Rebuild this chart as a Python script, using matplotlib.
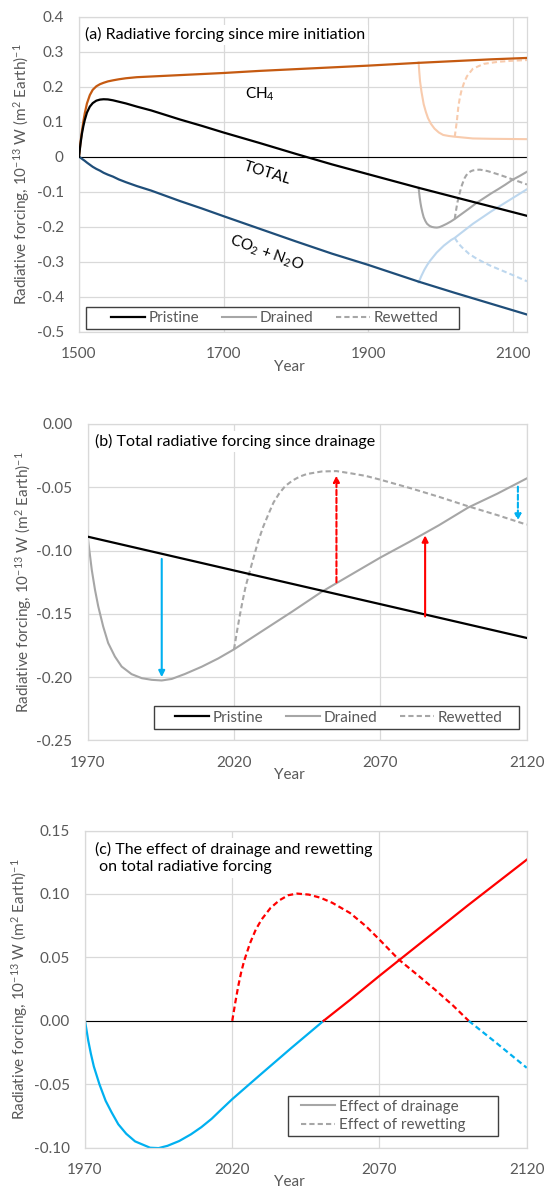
import matplotlib
matplotlib.use("Agg")
import matplotlib.pyplot as plt
import numpy as np
from matplotlib.lines import Line2D
from matplotlib.patches import Rectangle

plt.rcParams['font.family'] = ['Lato', 'DejaVu Sans']
plt.rcParams['mathtext.fontset'] = 'custom'
plt.rcParams['mathtext.rm'] = 'Lato'
plt.rcParams['mathtext.it'] = 'Lato:italic'
plt.rcParams['axes.unicode_minus'] = False

# pristine mire since initiation (panel a)
yr_pristine = [1500, 1502, 1504, 1506, 1508, 1511, 1515, 1519, 1524, 1529, 1534, 1540, 1547, 1555,
               1565, 1580, 1600, 1620, 1640, 1670, 1700, 1750, 1800, 1850, 1900, 1970, 2020, 2070, 2120]
ch4_pristine = [0.0, 0.040, 0.072, 0.100, 0.124, 0.152, 0.176, 0.191, 0.201, 0.207, 0.211, 0.215, 0.218, 0.221,
                0.224, 0.227, 0.229, 0.231, 0.233, 0.236, 0.239, 0.245, 0.250, 0.255, 0.260, 0.268, 0.273, 0.278, 0.282]
tot_pristine = [0.0, 0.036, 0.065, 0.087, 0.105, 0.126, 0.143, 0.153, 0.160, 0.163, 0.164, 0.1635, 0.161, 0.157,
                0.152, 0.143, 0.132, 0.119, 0.106, 0.088, 0.069, 0.039, 0.008, -0.022, -0.050, -0.089, -0.1157, -0.1423, -0.169]
co2_pristine = [0.0, -0.003, -0.006, -0.009, -0.012, -0.017, -0.023, -0.029, -0.035, -0.040, -0.046, -0.0515, -0.057, -0.065,
                -0.073, -0.084, -0.097, -0.112, -0.127, -0.148, -0.170, -0.206, -0.242, -0.277, -0.309, -0.357, -0.389, -0.420, -0.451]

# drained in 1970, rewetted in 2020 (panel a components)
yr_ch4_drained = [1970, 1971, 1972, 1974, 1977, 1980, 1983, 1987, 1992, 1998, 2004, 2012, 2020, 2045, 2070, 2120]
ch4_drained = [0.269, 0.240, 0.215, 0.185, 0.150, 0.128, 0.110, 0.094, 0.080, 0.069, 0.062, 0.059, 0.057, 0.052, 0.051, 0.050]
yr_ch4_rewet = [2020, 2021, 2023, 2025, 2027, 2029, 2033, 2037, 2045, 2060, 2080, 2100, 2120]
ch4_rewet = [0.057, 0.072, 0.103, 0.143, 0.168, 0.186, 0.212, 0.230, 0.251, 0.265, 0.271, 0.274, 0.276]
yr_co2_drained = [1970, 1974, 1978, 1982, 1986, 1995, 2005, 2015, 2020, 2045, 2070, 2095, 2120]
co2_drained = [-0.359, -0.340, -0.323, -0.309, -0.297, -0.274, -0.254, -0.238, -0.232, -0.192, -0.157, -0.125, -0.093]
yr_co2_rewet = [2020, 2025, 2030, 2040, 2050, 2060, 2070, 2085, 2100, 2120]
co2_rewet = [-0.232, -0.248, -0.259, -0.278, -0.291, -0.302, -0.312, -0.325, -0.338, -0.356]

# total forcing after drainage / rewetting (panels a and b)
yr_drained = [1970, 1971.4, 1972.5, 1973.6, 1975.3, 1977.0, 1979.3, 1981.6, 1985.0, 1988.5, 1991.9,
              1995.3, 1998.7, 2003.2, 2009.0, 2014.6, 2020, 2030, 2040, 2050, 2060, 2070, 2080,
              2090, 2100, 2110, 2120]
tot_drained = [-0.089, -0.1153, -0.131, -0.144, -0.160, -0.173, -0.1837, -0.1916, -0.1976, -0.2008, -0.2021,
               -0.2026, -0.2014, -0.1975, -0.1917, -0.1852, -0.178, -0.163, -0.148, -0.1325, -0.119, -0.1055, -0.093,
               -0.080, -0.066, -0.055, -0.043]
yr_rewet = [2020, 2021, 2022, 2023, 2024, 2025.2, 2026.5, 2028.2, 2030, 2031.8, 2033.5, 2035.4, 2037.5,
            2040.1, 2042.5, 2044.9, 2050, 2055, 2060, 2065, 2070, 2080, 2090, 2100, 2110, 2120]
tot_rewet = [-0.178, -0.164, -0.151, -0.139, -0.128, -0.118, -0.107, -0.093, -0.081, -0.071, -0.062, -0.055, -0.049,
             -0.0445, -0.0415, -0.0395, -0.0375, -0.0372, -0.039, -0.041, -0.044, -0.0505, -0.0575, -0.065, -0.072, -0.0795]

# arrows in panel b
arrow_yr = [1995.3, 2055.0, 2085.3, 2117.0]
arrow_from = [-0.1066, -0.125, -0.152, -0.0495]
arrow_to = [-0.200, -0.0408, -0.088, -0.0763]
arrow_col = ['#00B0F0', '#FF0000', '#FF0000', '#00B0F0']
arrow_dashed = [False, True, False, True]

# panel c: effects
yr_eff_drain = [1970, 1971.1, 1972, 1973, 1974.9, 1977, 1979, 1981.3, 1984, 1987, 1992.1, 1995, 1998, 2002,
                2006, 2009.5, 2013, 2016, 2020, 2030, 2040, 2051, 2060, 2070, 2080, 2090, 2100, 2110, 2120]
eff_drain = [0.0, -0.0156, -0.026, -0.036, -0.050, -0.063, -0.072, -0.0815, -0.089, -0.095, -0.100, -0.1003, -0.0985, -0.0947,
             -0.0894, -0.0838, -0.0772, -0.0705, -0.0617, -0.0415, -0.0215, 0.0, 0.0165, 0.0355, 0.054, 0.0725, 0.091, 0.109, 0.127]
yr_eff_rewet = [2020, 2021, 2022, 2023, 2024, 2026, 2028, 2030, 2033, 2036, 2039, 2042, 2046, 2050, 2054,
                2060, 2065.4, 2070, 2076.6, 2083, 2089, 2095, 2100.3, 2110, 2120]
eff_rewet = [0.0, 0.014, 0.027, 0.038, 0.047, 0.061, 0.072, 0.080, 0.089, 0.095, 0.099, 0.1003, 0.0995, 0.097, 0.093,
             0.085, 0.0746, 0.064, 0.0482, 0.036, 0.0243, 0.012, 0.0, -0.018, -0.037]

# ticks
xt_a = [1500, 1700, 1900, 2100]
yt_a = [0.4, 0.3, 0.2, 0.1, 0.0, -0.1, -0.2, -0.3, -0.4, -0.5]
yl_a = ['0.4', '0.3', '0.2', '0.1', '0', '-0.1', '-0.2', '-0.3', '-0.4', '-0.5']
xt_bc = [1970, 2020, 2070, 2120]
yt_b = [0.0, -0.05, -0.10, -0.15, -0.20, -0.25]
yl_b = ['0.00', '-0.05', '-0.10', '-0.15', '-0.20', '-0.25']
yt_c = [0.15, 0.10, 0.05, 0.0, -0.05, -0.10]
yl_c = ['0.15', '0.10', '0.05', '0.00', '-0.05', '-0.10']

grid_col = '#D9D9D9'
txt_col = '#595959'
c_ch4 = '#C55A11'
c_ch4_l = '#F8CBAD'
c_co2 = '#1F4E79'
c_co2_l = '#BDD7EE'
c_gray = '#A6A6A6'
c_blue = '#00B0F0'
c_red = '#FF0000'
dash = (0, (2.5, 1.5))
fs = 11
ylab = r'Radiative forcing, 10$^{-13}$ W (m$^{2}$ Earth)$^{-1}$'


def style(ax, xlim, ylim, xt, yt, yl, ylab_x, year_x, year_y):
    ax.set_xlim(xlim)
    ax.set_ylim(ylim)
    ax.set_xticks(xt)
    ax.set_yticks(yt)
    ax.set_yticklabels(yl)
    ax.grid(True, color=grid_col, lw=0.9)
    ax.set_axisbelow(True)
    for s in ax.spines.values():
        s.set_color(grid_col)
        s.set_linewidth(0.9)
    ax.tick_params(length=0, colors=txt_col, labelsize=fs, pad=11)
    ax.set_ylabel(ylab, color=txt_col, fontsize=fs)
    ax.yaxis.set_label_coords(ylab_x, 0.5)
    ax.yaxis.label.set_va('center')
    ax.set_xlabel('Year', color=txt_col, fontsize=fs)
    ax.xaxis.set_label_coords(year_x, year_y)
    ax.xaxis.label.set_va('center')


def legend_box(ax, x0, y0, x1, y1):
    ax.add_patch(Rectangle((x0, y0), x1 - x0, y1 - y0, transform=ax.transAxes,
                           facecolor='white', edgecolor='#404040', lw=1.0, zorder=5))


fig = plt.figure(figsize=(5.46, 11.88), dpi=100)

# ---------------- (a)
ax = fig.add_axes([0.1447, 0.7208, 0.8205, 0.2652])
style(ax, (1500, 2120), (-0.5, 0.4), xt_a, yt_a, yl_a, -0.129, 0.469, -0.112)
ax.axhline(0, color='black', lw=0.8, zorder=1.5)
ax.plot(yr_ch4_drained, ch4_drained, color=c_ch4_l, lw=1.5)
ax.plot(yr_ch4_rewet, ch4_rewet, color=c_ch4_l, lw=1.5, ls=dash)
ax.plot(yr_co2_drained, co2_drained, color=c_co2_l, lw=1.5)
ax.plot(yr_co2_rewet, co2_rewet, color=c_co2_l, lw=1.5, ls=dash)
ax.plot(yr_drained, tot_drained, color=c_gray, lw=1.5)
ax.plot(yr_rewet, tot_rewet, color=c_gray, lw=1.5, ls=dash)
ax.plot(yr_pristine, ch4_pristine, color=c_ch4, lw=1.6, zorder=3)
ax.plot(yr_pristine, co2_pristine, color=c_co2, lw=1.6, zorder=3)
ax.plot(yr_pristine, tot_pristine, color='black', lw=1.6, zorder=3)
ax.text(1750, 0.178, 'CH$_4$', fontsize=fs, ha='center', va='center')
ax.text(1761, -0.047, 'TOTAL', fontsize=fs, ha='center', va='center', rotation=-17)
ax.text(1760, -0.276, 'CO$_2$ + N$_2$O', fontsize=fs, ha='center', va='center', rotation=-20)
ax.text(0.0143, 0.942, '(a) Radiative forcing since mire initiation', transform=ax.transAxes,
        fontsize=11.5, ha='left', va='center', zorder=4,
        bbox=dict(facecolor='white', edgecolor='none', pad=2))
legend_box(ax, 0.0165, 0.0076, 0.849, 0.0775)
h = [Line2D([], [], color='black', lw=1.6),
     Line2D([], [], color=c_gray, lw=1.5),
     Line2D([], [], color=c_gray, lw=1.5, ls=dash)]
lg = ax.legend(h, ['Pristine', 'Drained', 'Rewetted'], ncol=3, loc='center',
               bbox_to_anchor=(0.4375, 0.0425), frameon=False, fontsize=fs,
               labelcolor=txt_col, handlelength=2.2, handletextpad=0.25,
               columnspacing=1.5, borderpad=0, borderaxespad=0)
lg.set_zorder(6)

# ---------------- (b)
ax = fig.add_axes([0.1606, 0.3767, 0.804, 0.2664])
style(ax, (1970, 2120), (-0.25, 0.0), xt_bc, yt_b, yl_b, -0.147, 0.46, -0.109)
ax.plot(yr_drained, tot_drained, color=c_gray, lw=1.5)
ax.plot(yr_rewet, tot_rewet, color=c_gray, lw=1.5, ls=dash)
ax.plot(yr_pristine, tot_pristine, color='black', lw=1.6, zorder=3)
for xa, y0, y1, c, d in zip(arrow_yr, arrow_from, arrow_to, arrow_col, arrow_dashed):
    ax.annotate('', xy=(xa, y1), xytext=(xa, y0),
                arrowprops=dict(arrowstyle='-|>', color=c, lw=1.5,
                                linestyle=(0, (2.5, 1.3)) if d else '-',
                                mutation_scale=9, shrinkA=0, shrinkB=0), zorder=4)
ax.text(0.017, 0.944, '(b) Total radiative forcing since drainage', transform=ax.transAxes,
        fontsize=11.5, ha='left', va='center', zorder=4,
        bbox=dict(facecolor='white', edgecolor='none', pad=2))
legend_box(ax, 0.152, 0.035, 0.982, 0.109)
lg = ax.legend(h, ['Pristine', 'Drained', 'Rewetted'], ncol=3, loc='center',
               bbox_to_anchor=(0.572, 0.072), frameon=False, fontsize=fs,
               labelcolor=txt_col, handlelength=2.2, handletextpad=0.25,
               columnspacing=1.5, borderpad=0, borderaxespad=0)
lg.set_zorder(6)

# ---------------- (c)
ax = fig.add_axes([0.1557, 0.0339, 0.809, 0.267])
style(ax, (1970, 2120), (-0.10, 0.15), xt_bc, yt_c, yl_c, -0.149, 0.462, -0.107)
ax.axhline(0, color='black', lw=0.8, zorder=1.5)
ed = np.array(eff_drain)
er = np.array(eff_rewet)
ax.plot(yr_eff_drain, np.ma.masked_where(ed > 0, ed), color=c_blue, lw=1.6)
ax.plot(yr_eff_drain, np.ma.masked_where(ed < 0, ed), color=c_red, lw=1.6)
ax.plot(yr_eff_rewet, np.ma.masked_where(er < 0, er), color=c_red, lw=1.6, ls=dash)
ax.plot(yr_eff_rewet, np.ma.masked_where(er > 0, er), color=c_blue, lw=1.6, ls=dash)
ax.text(0.022, 0.914, '(c) The effect of drainage and rewetting\n on total radiative forcing',
        transform=ax.transAxes, fontsize=11.5, ha='left', va='center', zorder=4,
        linespacing=1.25, bbox=dict(facecolor='white', edgecolor='none', pad=3))
legend_box(ax, 0.46, 0.037, 0.934, 0.163)
h2 = [Line2D([], [], color=c_gray, lw=1.5),
      Line2D([], [], color=c_gray, lw=1.5, ls=dash)]
lg = ax.legend(h2, ['Effect of drainage', 'Effect of rewetting'], loc='center left',
               bbox_to_anchor=(0.49, 0.100), frameon=False, fontsize=fs,
               labelcolor=txt_col, handlelength=2.2, handletextpad=0.25,
               labelspacing=0.3, borderpad=0, borderaxespad=0)
lg.set_zorder(6)

fig.savefig('out.png', dpi=100)
